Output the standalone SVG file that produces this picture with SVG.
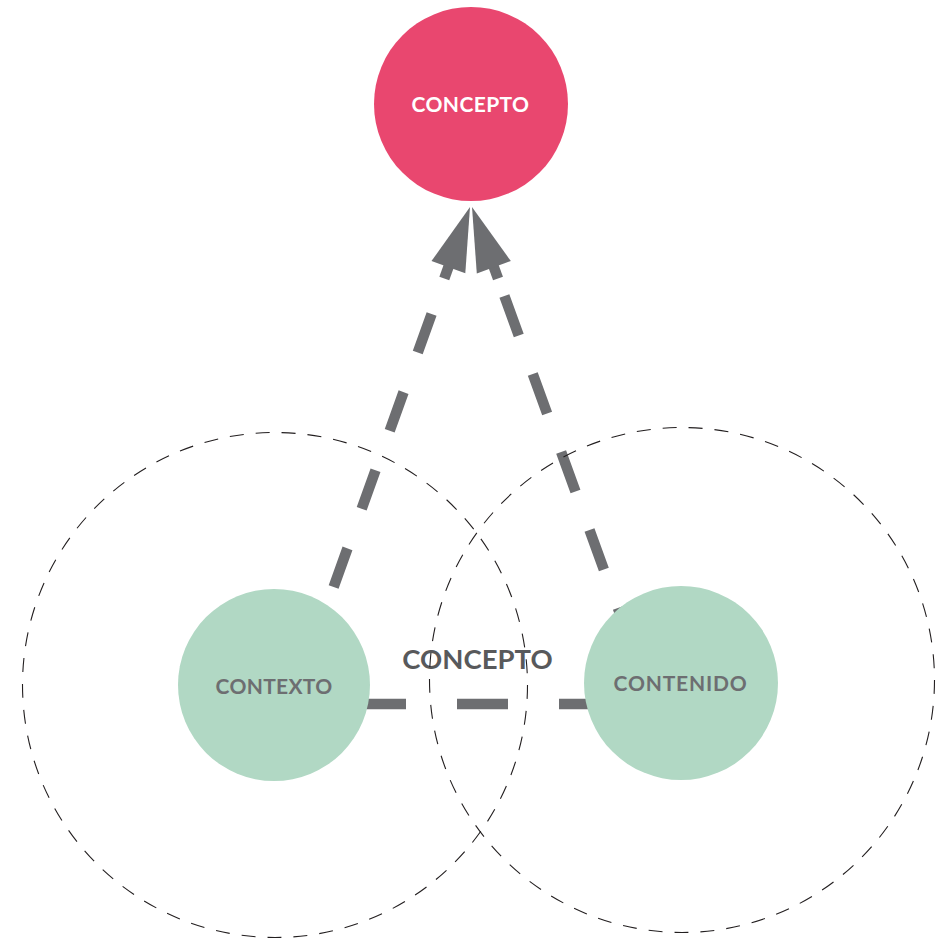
<svg xmlns="http://www.w3.org/2000/svg" width="937" height="938" viewBox="0 0 937 938">
<style>
.ring{fill:none;stroke:#231f20;stroke-width:1.1;stroke-dasharray:14 12}
.conn{fill:none;stroke:#6d6e71;stroke-width:10.5;stroke-linecap:butt}
.head{fill:#6d6e71}
.green{fill:#b1d8c4}
.lbl{font-family:Lato,"Noto Sans",sans-serif;font-weight:700;text-anchor:middle}
</style>
<rect width="937" height="938" fill="#ffffff"/>
<g id="connectors">
<path class="conn" d="M355 704 H612" stroke-dasharray="51 51"/>
<path class="conn" d="M431.6 314 L318 630.5" stroke-dasharray="41 42"/>
<path class="conn" d="M504.4 296 L632.7 648.8" stroke-dasharray="42 41"/>
<path class="conn" d="M456.5 244.6 L444.3 278.5"/>
<path class="head" d="M470 207 L431.5 261.1 L465.3 273.3 Z"/>
<path class="conn" d="M485.7 244.6 L498 278.5"/>
<path class="head" d="M472 207 L510.8 261 L476.8 273.4 Z"/>
</g>
<g id="node-concepto">
<circle cx="471" cy="104" r="97" fill="#e9476f"/>
<text class="lbl" x="470.5" y="112" font-size="21" fill="#ffffff" letter-spacing="0.4">CONCEPTO</text>
</g>
<g id="node-contexto">
<circle class="green" cx="274" cy="685" r="96"/>
<text class="lbl" x="274" y="694" font-size="21" fill="#6d6e71" letter-spacing="0.3">CONTEXTO</text>
</g>
<g id="node-contenido">
<circle class="green" cx="681" cy="683" r="97"/>
<text class="lbl" x="680.5" y="691" font-size="21" fill="#6d6e71" letter-spacing="0.8">CONTENIDO</text>
</g>
<g id="label-concepto-mid">
<text class="lbl" x="477.5" y="669" font-size="27.5" fill="#58595b">CONCEPTO</text>
</g>
<g id="ring-contexto">
<circle class="ring" cx="275" cy="685" r="252.5"/>
</g>
<g id="ring-contenido">
<circle class="ring" cx="682" cy="680" r="252.5"/>
</g>
</svg>
